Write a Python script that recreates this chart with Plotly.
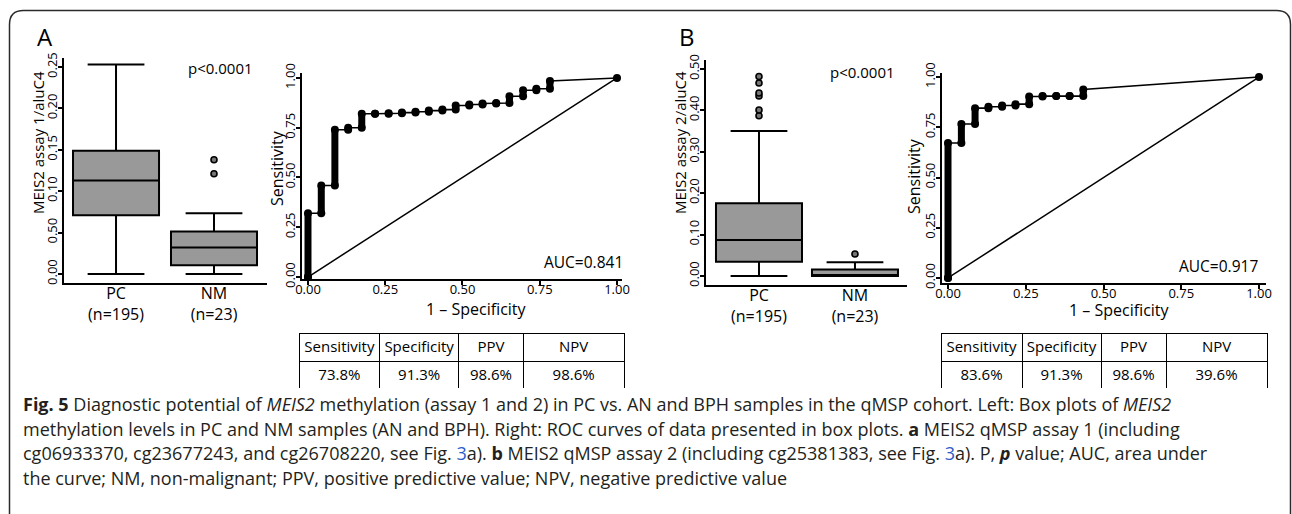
import plotly.graph_objects as go

W, H = 1292, 514

# ---------------- data ----------------
box_positions = [0, 1]
box_cat_labels = ["PC<br>(n=195)", "NM<br>(n=23)"]

# Panel A box plot (MEIS2 assay 1/aluC4)
a_q1 = [0.071, 0.0105]
a_median = [0.113, 0.032]
a_q3 = [0.149, 0.0512]
a_lower = [0.0, 0.0]
a_upper = [0.253, 0.0734]
a_out_nm = [0.121, 0.138]

# Panel B box plot (MEIS2 assay 2/aluC4)
b_q1 = [0.0346, 0.0]
b_median = [0.087, 0.002]
b_q3 = [0.1755, 0.016]
b_lower = [0.0, 0.0]
b_upper = [0.350, 0.033]
b_out_pc = [0.387, 0.401, 0.435, 0.442, 0.466, 0.482]
b_out_nm = [0.053]

a_ytick_vals = [0.0, 0.05, 0.10, 0.15, 0.20, 0.25]
a_ytick_text = ["0.00", "0.50", "0.10", "0.15", "0.20", "0.25"]
b_ytick_vals = [0.0, 0.1, 0.2, 0.3, 0.4, 0.5]
b_ytick_text = ["0.00", "0.10", "0.20", "0.30", "0.40", "0.50"]
roc_tick_vals = [0.0, 0.25, 0.5, 0.75, 1.0]
roc_tick_text = ["0.00", "0.25", "0.50", "0.75", "1.00"]

# ROC curves: 1-specificity steps and sensitivity reached at each step
roc_a_fpr = [0.0, 0.043, 0.087, 0.130, 0.174, 0.217, 0.261, 0.304, 0.348, 0.391,
             0.435, 0.478, 0.522, 0.565, 0.609, 0.652, 0.696, 0.739, 0.783]
roc_a_tpr = [0.32, 0.46, 0.74, 0.75, 0.82, 0.82, 0.823, 0.826, 0.83, 0.836,
             0.841, 0.862, 0.867, 0.872, 0.874, 0.908, 0.938, 0.946, 0.985]
roc_b_fpr = [0.0, 0.043, 0.087, 0.130, 0.174, 0.217, 0.261, 0.304, 0.348, 0.391, 0.435]
roc_b_tpr = [0.672, 0.766, 0.845, 0.852, 0.858, 0.865, 0.903, 0.905, 0.905, 0.905, 0.938]
auc_a = "AUC=0.841"
auc_b = "AUC=0.917"

table_header = ["Sensitivity", "Specificity", "PPV", "NPV"]
table_a_values = ["73.8%", "91.3%", "98.6%", "98.6%"]
table_b_values = ["83.6%", "91.3%", "98.6%", "39.6%"]

caption_lines = [
    "<b>Fig. 5</b> Diagnostic potential of <i>MEIS2</i> methylation (assay 1 and 2) in PC vs. AN and BPH samples in the qMSP cohort. Left: Box plots of <i>MEIS2</i>",
    "methylation levels in PC and NM samples (AN and BPH). Right: ROC curves of data presented in box plots. <b>a</b> MEIS2 qMSP assay 1 (including",
    "cg06933370, cg23677243, and cg26708220, see Fig. <span style='color:#2f5dc9'>3</span>a). <b>b</b> MEIS2 qMSP assay 2 (including cg25381383, see Fig. <span style='color:#2f5dc9'>3</span>a). P, <b><i>p</i></b> value; AUC, area under",
    "the curve; NM, non-malignant; PPV, positive predictive value; NPV, negative predictive value",
]

# ---------------- helpers ----------------
FONT = "Open Sans"
GRAY = "#999999"


def px(x):
    return x / W


def py(y):
    return 1 - y / H


fig = go.Figure()

# ---------------- box plots ----------------
def add_box(xa, ya, q1, med, q3, lo, hi, width):
    fig.add_trace(go.Box(
        x=box_positions, q1=q1, median=med, q3=q3, lowerfence=lo, upperfence=hi,
        width=width, whiskerwidth=0.66, fillcolor=GRAY, boxpoints=False,
        line=dict(color="black", width=2), xaxis=xa, yaxis=ya, showlegend=False,
        hoverinfo="skip"))


def add_outliers(xa, ya, pos, vals):
    fig.add_trace(go.Scatter(
        x=[pos] * len(vals), y=vals, mode="markers", xaxis=xa, yaxis=ya,
        marker=dict(symbol="circle", size=6, color="#777777",
                    line=dict(color="black", width=1.6)),
        showlegend=False, hoverinfo="skip"))


add_box("x", "y", a_q1, a_median, a_q3, a_lower, a_upper, 0.878)
add_outliers("x", "y", 1, a_out_nm)
add_box("x3", "y3", b_q1, b_median, b_q3, b_lower, b_upper, 0.896)
add_outliers("x3", "y3", 0, b_out_pc)
add_outliers("x3", "y3", 1, b_out_nm)

# ---------------- ROC curves ----------------
def add_roc(xa, ya, fpr, tpr):
    # diagonal reference
    fig.add_trace(go.Scatter(x=[0, 1], y=[0, 1], mode="lines", xaxis=xa, yaxis=ya,
                             line=dict(color="black", width=1.5), showlegend=False,
                             hoverinfo="skip"))
    xs, ys = [0.0], [0.0]
    bx, by = [], []
    mx, my = [0.0], [0.0]
    prev = 0.0
    for f, t in zip(fpr, tpr):
        xs += [f, f]
        ys += [prev, t]
        bx += [f, f, None]
        by += [prev, t, None]
        mx += [f, f]
        my += [prev, t]
        prev = t
    xs.append(1.0)
    ys.append(1.0)
    mx.append(1.0)
    my.append(1.0)
    fig.add_trace(go.Scatter(x=xs, y=ys, mode="lines", xaxis=xa, yaxis=ya,
                             line=dict(color="black", width=1.6), showlegend=False,
                             hoverinfo="skip"))
    fig.add_trace(go.Scatter(x=bx, y=by, mode="lines", xaxis=xa, yaxis=ya,
                             line=dict(color="black", width=7), showlegend=False,
                             hoverinfo="skip", connectgaps=False))
    fig.add_trace(go.Scatter(x=mx, y=my, mode="markers", xaxis=xa, yaxis=ya,
                             marker=dict(color="black", size=8), showlegend=False,
                             hoverinfo="skip"))


add_roc("x2", "y2", roc_a_fpr, roc_a_tpr)
add_roc("x4", "y4", roc_b_fpr, roc_b_tpr)

# ---------------- tables ----------------
def add_table(x0, x1, vals):
    fig.add_trace(go.Table(
        domain=dict(x=[px(x0), px(x1)], y=[py(389), py(333)]),
        columnwidth=[81, 79, 65, 101],
        header=dict(values=table_header, height=28, align="center",
                    fill_color="white", line=dict(color="black", width=1),
                    font=dict(family=FONT, size=15, color="black")),
        cells=dict(values=[[v] for v in vals], height=28, align="center",
                   fill_color="white", line=dict(color="black", width=1),
                   font=dict(family=FONT, size=15, color="black")),
    ))


add_table(299, 625, table_a_values)
add_table(941, 1267, table_b_values)

# ---------------- axes ----------------
tickfont = dict(family=FONT, size=13, color="black")
common = dict(showgrid=False, zeroline=False, showline=True, linecolor="black",
              linewidth=1.5, tickfont=tickfont, fixedrange=True, automargin=False)

box_x = dict(common, ticks="", tickmode="array", tickvals=box_positions,
             ticktext=box_cat_labels, ticklabelstandoff=-5,
             tickfont=dict(family=FONT, size=16, color="black"))
ytick_style = dict(ticks="outside", ticklen=4, tickwidth=1.5, tickcolor="black",
                   tickangle=-90, tickmode="array", ticklabelstandoff=-4)
roc_x = dict(common, ticks="outside", ticklen=4, tickwidth=1.5, tickcolor="black",
             tickmode="array", tickvals=roc_tick_vals, ticktext=roc_tick_text,
             ticklabelstandoff=-6)

fig.update_layout(
    width=W, height=H, margin=dict(l=0, r=0, t=0, b=0, pad=0, autoexpand=False),
    paper_bgcolor="white", plot_bgcolor="white", showlegend=False,
    font=dict(family=FONT, color="black"),
    xaxis=dict(box_x, domain=[px(64), px(267)], range=[-0.531, 1.541], anchor="y"),
    yaxis=dict(common, **ytick_style, tickvals=a_ytick_vals, ticktext=a_ytick_text,
               domain=[py(283), py(58)], range=[-0.01087, 0.26087], anchor="x"),
    xaxis2=dict(roc_x, domain=[px(302), px(622)], range=[-0.0194, 1.0162], anchor="y2"),
    yaxis2=dict(common, **ytick_style, tickvals=roc_tick_vals, ticktext=roc_tick_text,
                domain=[py(279), py(73)], range=[-0.01, 1.025], anchor="x2"),
    xaxis3=dict(box_x, domain=[px(706), px(907)], range=[-0.552, 1.542], anchor="y3"),
    yaxis3=dict(common, **ytick_style, tickvals=b_ytick_vals, ticktext=b_ytick_text,
                domain=[py(285), py(60)], range=[-0.0217, 0.5217], anchor="x3"),
    xaxis4=dict(roc_x, domain=[px(942), px(1266)], range=[-0.0193, 1.0225], anchor="y4"),
    yaxis4=dict(common, **ytick_style, tickvals=roc_tick_vals, ticktext=roc_tick_text,
                domain=[py(283), py(73)], range=[-0.025, 1.02], anchor="x4"),
)

# ---------------- annotations ----------------
def note(text, x, y, size=15, angle=0, xanchor="center", yanchor="middle", color="black"):
    fig.add_annotation(text=text, x=px(x), y=py(y), xref="paper", yref="paper",
                       showarrow=False, textangle=angle, xanchor=xanchor, yanchor=yanchor,
                       font=dict(family=FONT, size=size, color=color))


note("A", 45, 37, size=24)
note("B", 687, 37, size=24)
note("MEIS2 assay 1/aluC4", 38, 143, size=15, angle=-90)
note("MEIS2 assay 2/aluC4", 680, 143, size=15, angle=-90)
note("p&lt;0.0001", 220, 68, size=15)
note("p&lt;0.0001", 862, 72, size=15)
note("Sensitivity", 277, 168, size=16, angle=-90)
note("Sensitivity", 914, 176, size=16, angle=-90)
note("1 – Specificity", 476, 309, size=16)
note("1 – Specificity", 1119, 310, size=16)
note(auc_a, 625, 262, size=15.5, xanchor="right")
note(auc_b, 1260, 266, size=15.5, xanchor="right")

caption_y = [404, 429, 453, 478]
for line, yy in zip(caption_lines, caption_y):
    note(line, 21, yy, size=18, xanchor="left", color="#231f20")

# ---------------- rounded frame ----------------
r = 14
L, T, R, B = 9.5, 10.5, 1290.5, 560
path = (f"M {px(L)},{py(B)} L {px(L)},{py(T + r)} Q {px(L)},{py(T)} {px(L + r)},{py(T)} "
        f"L {px(R - r)},{py(T)} Q {px(R)},{py(T)} {px(R)},{py(T + r)} L {px(R)},{py(B)}")
fig.add_shape(type="path", path=path, xref="paper", yref="paper",
              line=dict(color="#2b2b2b", width=1.5))

fig.write_html("out.html", config={"displayModeBar": False},
               post_script="document.body.style.margin='0px';document.body.style.padding='0px';")
